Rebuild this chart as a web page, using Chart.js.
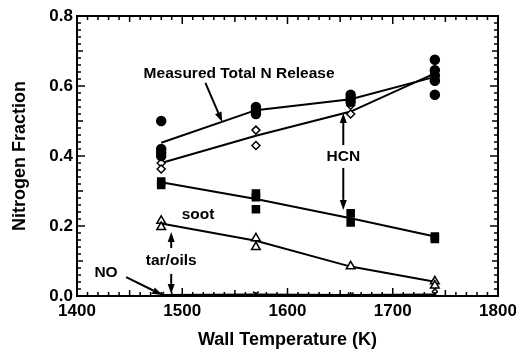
<!DOCTYPE html>
<html>
<head>
<meta charset="utf-8">
<script src="https://cdn.jsdelivr.net/npm/chart.js@4.4.0/dist/chart.umd.min.js"></script>
<style>
  html, body { margin: 0; padding: 0; background: #fff; }
  #wrap { width: 516px; height: 354px; }
</style>
</head>
<body>
<div id="wrap"><canvas id="chart" width="516" height="354"></canvas></div>
<script>
// --- Data ---
const tempK = [1480, 1570, 1660, 1740];

// measured points at each wall temperature
const totalN = [[0.50, 0.42, 0.41, 0.40], [0.54, 0.53, 0.52], [0.575, 0.565, 0.555], [0.675, 0.645, 0.63, 0.615, 0.575]];
const hcnPts = [[0.38, 0.363], [0.474, 0.43], [0.52, 0.545], [0.645, 0.63, 0.62]];
const sootPts = [[0.327, 0.317], [0.293, 0.282, 0.248], [0.236, 0.21], [0.17, 0.163]];
const tarPts = [[0.215, 0.197], [0.165, 0.14], [0.085], [0.042, 0.03]];
const noPts = [[0.003], [0.005], [0.002], [0.02, 0.005]];

// fitted curves
const totalFit = [0.438, 0.531, 0.562, 0.626];
const hcnFit = [0.38, 0.458, 0.527, 0.636];
const sootFit = [0.325, 0.277, 0.222, 0.17];
const tarFit = [0.207, 0.158, 0.084, 0.041];
const noFit = [0.003, 0.004, 0.003, 0.004];

const xTicks = [1400, 1500, 1600, 1700, 1800];
const yTicks = [0.0, 0.2, 0.4, 0.6, 0.8];

// annotations: [text, x, y]
const labels = [
  ['Measured Total N Release', 1554, 0.634],
  ['HCN', 1653, 0.397],
  ['soot', 1515, 0.231],
  ['tar/oils', 1489.5, 0.1],
  ['NO', 1427.6, 0.066]
];
// arrows: [x0, y0, x1, y1] (head at x1,y1)
const arrows = [
  [1522, 0.609, 1538, 0.497],
  [1653, 0.431, 1653, 0.523],
  [1653, 0.366, 1653, 0.246],
  [1489.5, 0.137, 1489.5, 0.183],
  [1489.5, 0.063, 1489.5, 0.006],
  [1446.7, 0.054, 1481, 0.003]
];

// --- Helpers ---
const FONT = '"Liberation Sans", Arial, Helvetica, sans-serif';
function toPoints(groups) {
  const out = [];
  groups.forEach((g, i) => g.forEach(v => out.push({ x: tempK[i], y: v })));
  return out;
}
function toLine(vals) {
  return vals.map((v, i) => ({ x: tempK[i], y: v }));
}
function scatterSet(data, style, radius, fill) {
  return {
    data: toPoints(data), showLine: false, pointStyle: style, pointRadius: radius,
    pointBackgroundColor: fill, pointBorderColor: '#000', pointBorderWidth: 1.5, order: 1
  };
}
function lineSet(vals) {
  return {
    data: toLine(vals), showLine: true, borderColor: '#000', borderWidth: 2,
    pointRadius: 0, tension: 0, order: 2
  };
}

// --- Plugin: frame, inward ticks, annotations ---
const decor = {
  id: 'decor',
  afterDraw(chart) {
    const { ctx, chartArea: a, scales: { x, y } } = chart;
    ctx.save();
    ctx.strokeStyle = '#000';
    ctx.lineWidth = 2;
    ctx.strokeRect(a.left, a.top, a.right - a.left, a.bottom - a.top);

    ctx.lineWidth = 1.5;
    ctx.beginPath();
    for (let v = 1400; v <= 1800; v += 10) {
      const len = v % 100 === 0 ? 8 : v % 50 === 0 ? 6 : 4;
      const px = x.getPixelForValue(v);
      ctx.moveTo(px, a.bottom); ctx.lineTo(px, a.bottom - len);
      ctx.moveTo(px, a.top); ctx.lineTo(px, a.top + len);
    }
    for (let i = 0; i <= 40; i++) {
      const len = i % 10 === 0 ? 8 : i % 5 === 0 ? 6 : 4;
      const py = y.getPixelForValue(i * 0.02);
      ctx.moveTo(a.left, py); ctx.lineTo(a.left + len, py);
      ctx.moveTo(a.right, py); ctx.lineTo(a.right - len, py);
    }
    ctx.stroke();

    ctx.fillStyle = '#000';
    ctx.font = 'bold 15.5px ' + FONT;
    ctx.textAlign = 'center';
    ctx.textBaseline = 'middle';
    labels.forEach(([t, lx, ly]) => ctx.fillText(t, x.getPixelForValue(lx), y.getPixelForValue(ly)));

    ctx.lineWidth = 2;
    arrows.forEach(([x0, y0, x1, y1]) => {
      const ax = x.getPixelForValue(x0), ay = y.getPixelForValue(y0);
      const bx = x.getPixelForValue(x1), by = y.getPixelForValue(y1);
      const ang = Math.atan2(by - ay, bx - ax);
      const hl = 10, hw = 3.5;
      const sx = bx - hl * Math.cos(ang), sy = by - hl * Math.sin(ang);
      ctx.beginPath();
      ctx.moveTo(ax, ay); ctx.lineTo(sx, sy);
      ctx.stroke();
      ctx.beginPath();
      ctx.moveTo(bx, by);
      ctx.lineTo(sx + hw * Math.sin(ang), sy - hw * Math.cos(ang));
      ctx.lineTo(sx - hw * Math.sin(ang), sy + hw * Math.cos(ang));
      ctx.closePath();
      ctx.fill();
    });
    ctx.restore();
  }
};

// --- Chart ---
new Chart(document.getElementById('chart').getContext('2d'), {
  type: 'scatter',
  data: {
    datasets: [
      scatterSet(totalN, 'circle', 4.5, '#000'),
      scatterSet(hcnPts, 'rectRot', 4, '#fff'),
      scatterSet(sootPts, 'rect', 5, '#000'),
      scatterSet(tarPts, 'triangle', 5, '#fff'),
      scatterSet(noPts, 'crossRot', 4, '#000'),
      lineSet(totalFit),
      lineSet(hcnFit),
      lineSet(sootFit),
      lineSet(tarFit),
      lineSet(noFit)
    ]
  },
  plugins: [decor],
  options: {
    responsive: false,
    animation: false,
    layout: { padding: { left: 0, right: 18, top: 16, bottom: 0 } },
    plugins: { legend: { display: false }, tooltip: { enabled: false } },
    scales: {
      x: {
        type: 'linear', min: 1400, max: 1800,
        afterBuildTicks: s => { s.ticks = xTicks.map(v => ({ value: v })); },
        afterFit: s => { s.height = 58; s.paddingRight = 0; s.paddingLeft = 0; },
        grid: { display: false, drawTicks: false },
        border: { display: false },
        ticks: { color: '#000', font: { family: FONT, size: 17, weight: 'bold' }, padding: 5, maxRotation: 0, callback: v => String(v) },
        title: { display: true, text: 'Wall Temperature (K)', color: '#000', font: { family: FONT, size: 18, weight: 'bold' }, padding: { top: 6, bottom: 3 } }
      },
      y: {
        type: 'linear', min: 0, max: 0.8,
        afterBuildTicks: s => { s.ticks = yTicks.map(v => ({ value: v })); },
        afterFit: s => { s.width = 77; },
        grid: { display: false, drawTicks: false },
        border: { display: false },
        ticks: { color: '#000', font: { family: FONT, size: 17, weight: 'bold' }, padding: 4, callback: v => v.toFixed(1) },
        title: { display: true, text: 'Nitrogen Fraction', color: '#000', font: { family: FONT, size: 18, weight: 'bold' }, padding: { top: 9, bottom: 4 } }
      }
    }
  }
});
</script>
</body>
</html>
